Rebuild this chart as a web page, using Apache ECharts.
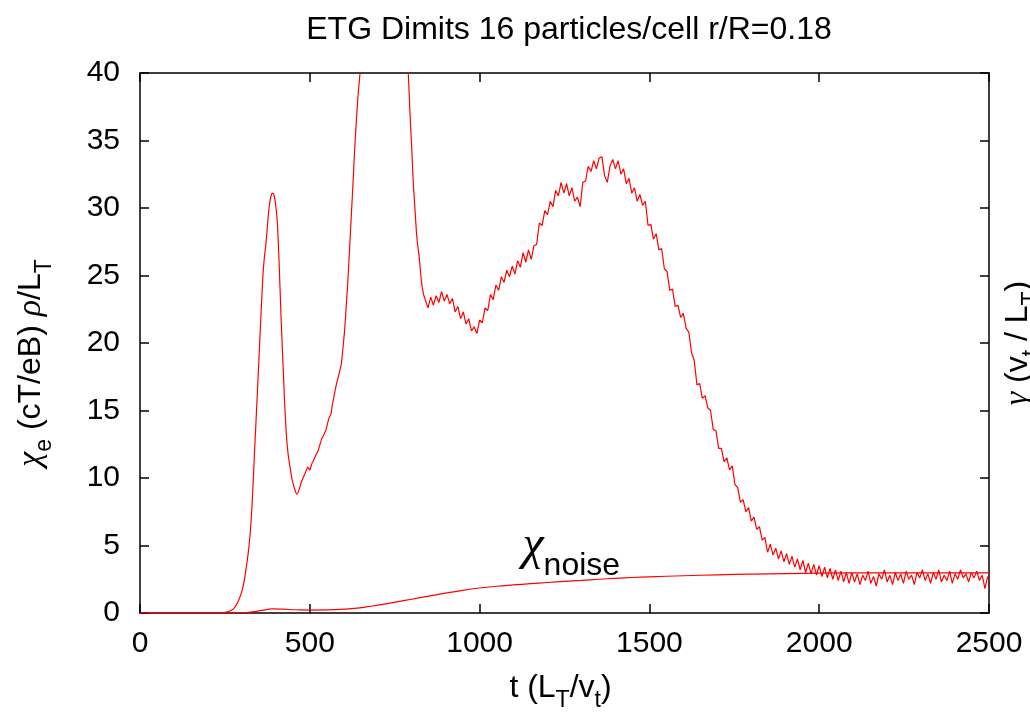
<!DOCTYPE html>
<html>
<head>
<meta charset="utf-8">
<script src="https://cdn.jsdelivr.net/npm/echarts@6/dist/echarts.min.js"></script>
<style>
html,body{margin:0;padding:0;background:#fff;}
#chart{width:1030px;height:712px;}
</style>
</head>
<body>
<div id="chart"></div>
<script>
// ---- data ----
const titleText = 'ETG Dimits 16 particles/cell r/R=0.18';
const xRange = [0, 2500];
const yRange = [0, 40];
const xStep = 500;
const yStep = 5;

// chi_e, growth phase (t, chi)
const chiGrowth = [[0,0],[100,0],[200,0],[240,0.02],[260,0.1],[275,0.3],[290,0.9],[302,1.8],[312,3.2],[322,5.2],[330,8],[337,11.8],[345,16],[352,19.8],[358,23],[362,25],[366,26.3],[371,27.4],[376,28.9],[381,30.2],[386,30.9],[390,31.1],[394,31],[398,30.5],[403,29.4],[407,27.6],[411,25],[416,21.5],[421,18.5],[426,15.5],[431,13.2],[436,11.8],[440,11.1],[447,10],[455,9.2],[462,8.8],[468,9.1],[474,9.6],[480,10],[487,10.4],[494,10.8],[500,10.6],[505,11],[509,11.2],[518,11.7],[524,12],[529,12.4],[535,12.9],[539,13.1],[545,13.4],[549,13.7],[556,14.4],[563,14.8],[566,15.4],[570,15.9],[578,16.9],[585,17.6],[593,18.5],[598,19.7],[603,21.1],[608,23],[613,25],[618,27.4],[623,29.8],[628,32.2],[632,34.3],[637,36.4],[642,38.3],[650,40.6],[660,44],[680,50],[700,54],[720,56],[740,55],[760,51],[775,46],[785,41.5],[790,40],[795,37],[800,34.5],[805,31.7],[810,29.8],[814,28.2],[818,27.2],[822,26.4],[829,24.5],[835,23.6],[840,23.2]];

// chi_e, turbulent phase (t, chi)
const chiTurb = [[840,23.2],[848,22.6],[856,23.4],[864,22.8],[872,23.5],[880,23.0],[888,23.8],[896,23.1],[904,23.6],[912,22.9],[920,23.3],[928,22.3],[936,22.7],[944,21.8],[952,22.3],[960,21.4],[968,21.8],[976,20.9],[984,21.2],[992,20.7],[1000,21.7],[1008,21.5],[1016,22.6],[1024,22.4],[1032,23.6],[1040,23.2],[1048,24.3],[1056,23.9],[1064,24.9],[1072,24.5],[1080,25.4],[1088,24.9],[1096,25.7],[1104,25.1],[1112,26.1],[1120,25.6],[1128,26.7],[1136,26.0],[1144,26.9],[1152,26.2],[1160,27.2],[1168,27.3],[1176,28.9],[1184,28.7],[1192,29.8],[1200,29.5],[1208,30.5],[1216,30.1],[1224,31.3],[1232,30.9],[1240,31.9],[1248,31.1],[1256,31.8],[1264,30.9],[1272,31.5],[1280,30.5],[1288,30.8],[1296,30.1],[1304,31.9],[1312,32.0],[1320,33.1],[1328,32.7],[1336,33.5],[1344,32.9],[1352,33.7],[1360,33.8],[1368,32.4],[1376,31.9],[1384,33.1],[1392,33.6],[1400,32.9],[1408,33.5],[1416,32.5],[1424,32.9],[1432,31.8],[1440,32.2],[1448,31.1],[1456,31.5],[1464,30.5],[1472,31.0],[1480,30.2],[1488,30.5],[1496,28.7],[1504,28.8],[1512,27.7],[1520,28.1],[1528,26.9],[1536,27.0],[1544,25.5],[1552,25.3],[1560,23.9],[1568,24.0],[1576,22.7],[1584,22.8],[1592,21.9],[1600,22.2],[1608,21.1],[1616,20.8],[1624,19.3],[1632,18.7],[1640,16.9],[1648,17.0],[1656,15.9],[1664,16.1],[1672,15.2],[1680,15.0],[1688,13.6],[1696,13.5],[1704,12.2],[1712,12.2],[1720,11.2],[1728,11.5],[1736,10.6],[1744,10.9],[1752,9.5],[1760,9.3],[1768,8.2],[1776,8.4],[1784,7.5],[1792,7.8],[1800,6.8],[1808,7.1],[1816,6.2],[1824,6.4],[1832,5.4],[1840,5.6],[1848,4.5],[1856,5.1],[1864,4.3],[1872,4.8],[1880,4.0],[1888,4.6],[1896,3.8],[1904,4.4],[1912,3.6],[1920,4.2],[1928,3.4],[1936,4.0],[1944,3.2],[1952,3.9],[1960,3.0],[1968,3.7],[1976,2.9],[1984,3.6],[1992,2.8],[2000,3.5],[2008,2.7],[2016,3.4],[2024,2.6],[2032,3.3],[2040,2.5],[2048,3.2],[2056,2.4],[2064,3.1],[2072,2.3],[2080,3.0],[2088,2.2],[2096,3.0],[2104,2.3],[2112,2.9],[2120,2.1],[2128,2.8],[2136,2.4],[2144,3.1],[2152,2.2],[2160,2.7],[2168,2.0],[2176,2.9],[2184,2.5],[2192,3.2],[2200,2.3],[2208,2.8],[2216,2.1],[2224,3.0],[2232,2.4],[2240,2.9],[2248,2.2],[2256,3.1],[2264,2.5],[2272,2.8],[2280,2.1],[2288,3.0],[2296,2.6],[2304,3.2],[2312,2.4],[2320,2.9],[2328,2.2],[2336,3.0],[2344,2.5],[2352,3.2],[2360,2.3],[2368,2.8],[2376,2.4],[2384,3.1],[2392,2.2],[2400,2.9],[2408,2.5],[2416,3.2],[2424,2.6],[2432,2.9],[2440,2.3],[2448,3.0],[2456,2.6],[2464,3.1],[2472,2.4],[2480,2.8],[2488,1.8],[2496,2.7],[2500,2.5]];

// chi_noise (t, chi)
const noiseCurve = [[0,0],[250,0],[300,0.02],[330,0.08],[360,0.2],[390,0.3],[420,0.28],[460,0.24],[500,0.22],[550,0.23],[600,0.28],[640,0.36],[680,0.5],[720,0.66],[760,0.84],[800,1.02],[850,1.25],[900,1.47],[950,1.68],[1000,1.85],[1050,1.98],[1100,2.08],[1150,2.17],[1200,2.26],[1250,2.34],[1300,2.42],[1350,2.5],[1400,2.57],[1450,2.63],[1500,2.68],[1600,2.76],[1700,2.83],[1800,2.88],[1900,2.92],[2000,2.95],[2200,2.97],[2500,2.97]];

// annotation anchor (t, chi)
const noiseLabelAt = [1270, 4.5];

// ---- chart ----
const FONT = 'Liberation Sans, Arial, Helvetica, sans-serif';
const GREEK = 'Liberation Serif, DejaVu Serif, serif';
const nameRich = {
  a: { fontSize: 32, fontFamily: FONT, color: '#000', padding: [0, 0, 8, 0] },
  g: { fontSize: 34, fontFamily: GREEK, fontStyle: 'italic', color: '#000', padding: [0, 0, 8, 0] },
  s: { fontSize: 23, fontFamily: FONT, color: '#000', verticalAlign: 'bottom' }
};
const axisLine = { show: true, onZero: false, lineStyle: { color: '#000', width: 1.5 } };
const tick = { show: true, inside: true, length: 9, lineStyle: { color: '#000', width: 1.5 } };
const plainNum = v => String(v);

const chart = echarts.init(document.getElementById('chart'), null, { renderer: 'canvas' });
chart.setOption({
  animation: false,
  backgroundColor: '#fff',
  title: {
    text: titleText, left: 564, top: 9, textAlign: 'center',
    textStyle: { fontSize: 32, fontWeight: 'normal', fontFamily: FONT, color: '#000' }
  },
  grid: { left: 140, top: 73, width: 849, height: 540, containLabel: false, outerBoundsMode: 'none' },
  xAxis: [
    { type: 'value', position: 'bottom', min: xRange[0], max: xRange[1], interval: xStep,
      axisLine: axisLine, axisTick: tick, splitLine: { show: false },
      axisLabel: { fontSize: 30, fontFamily: FONT, color: '#000', margin: 16, formatter: plainNum },
      name: '{a|t (L}{s|T}{a|/v}{s|t}{a|)}', nameLocation: 'middle', nameGap: 59,
      nameTextStyle: { rich: nameRich, padding: [0, 8, 0, 0] } },
    { type: 'value', position: 'top', min: xRange[0], max: xRange[1], interval: xStep,
      axisLine: axisLine, axisTick: tick, axisLabel: { show: false }, splitLine: { show: false } }
  ],
  yAxis: [
    { type: 'value', position: 'left', min: yRange[0], max: yRange[1], interval: yStep,
      axisLine: axisLine, axisTick: tick, splitLine: { show: false },
      axisLabel: { fontSize: 30, fontFamily: FONT, color: '#000', margin: 20, formatter: plainNum },
      name: '{g|χ}{s|e}{a| (cT/eB) }{g|ρ}{a|/L}{s|T}', nameLocation: 'middle', nameGap: 84, nameRotate: 90,
      nameTextStyle: { rich: nameRich, padding: [0, 40, 0, 0] } },
    { type: 'value', position: 'right', min: yRange[0], max: yRange[1], interval: yStep,
      axisLine: axisLine, axisTick: tick, axisLabel: { show: false }, splitLine: { show: false },
      name: '{g|γ}{a| (v}{s|t}{a| / L}{s|T}{a|)}', nameLocation: 'middle', nameGap: 12, nameRotate: 90,
      nameTextStyle: { rich: nameRich } }
  ],
  series: [
    { type: 'line', name: 'chiGrowth', data: chiGrowth, showSymbol: false, smooth: 0.2, clip: true,
      lineStyle: { color: '#ff0000', width: 1.2 }, itemStyle: { color: '#ff0000' } },
    { type: 'line', name: 'chiTurb', data: chiTurb, showSymbol: false, clip: true,
      lineStyle: { color: '#ff0000', width: 1.2 }, itemStyle: { color: '#ff0000' } },
    { type: 'line', name: 'noise', data: noiseCurve, showSymbol: false, smooth: true, clip: true,
      lineStyle: { color: '#ff0000', width: 1.2 }, itemStyle: { color: '#ff0000' },
      markPoint: {
        symbol: 'circle', symbolSize: 1, itemStyle: { color: 'rgba(0,0,0,0)' },
        data: [{ coord: noiseLabelAt }],
        label: {
          show: true, position: 'inside', formatter: '{c|χ}{n|noise}',
          rich: {
            c: { fontSize: 48, fontFamily: GREEK, fontStyle: 'italic', color: '#000', padding: [0, 0, 11, 0] },
            n: { fontSize: 32, fontFamily: FONT, color: '#000', verticalAlign: 'bottom' }
          }
        }
      } }
  ]
});
</script>
</body>
</html>
